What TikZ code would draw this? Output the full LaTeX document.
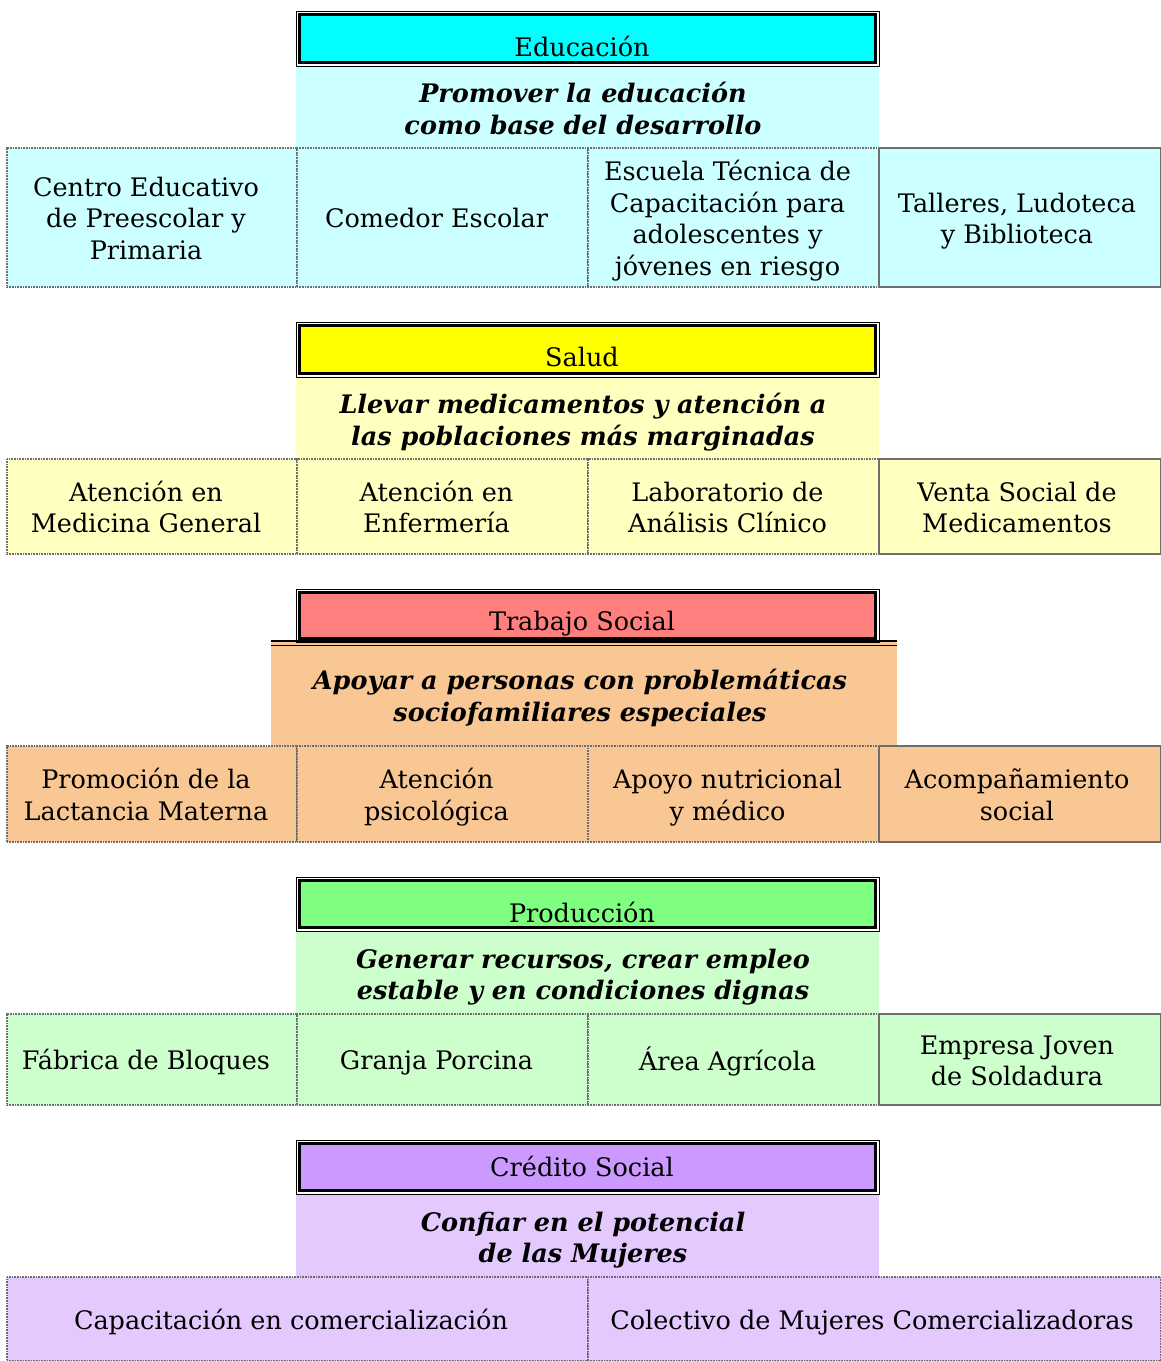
\documentclass[tikz,border=0pt]{standalone}
\usepackage{fontspec}
\setmainfont{DejaVu Serif}
\definecolor{cyanH}{HTML}{00FFFF}
\definecolor{cyanL}{HTML}{CCFFFF}
\definecolor{yelH}{HTML}{FFFF00}
\definecolor{yelL}{HTML}{FFFFC0}
\definecolor{redH}{HTML}{FF7F7F}
\definecolor{orL}{HTML}{F9C794}
\definecolor{grnH}{HTML}{7FFF7F}
\definecolor{grnL}{HTML}{CCFFCC}
\definecolor{purH}{HTML}{CC99FF}
\definecolor{purL}{HTML}{E4C9FF}
\definecolor{cellline}{HTML}{6E6E6E}
% #1 = horizontal offset (twice the left shift), #2 = twice the downward shift, #3 = lines
\newcommand{\ctab}[3]{\raisebox{0pt}[\dimexpr\height+#2pt\relax]{\begin{tabular}{@{}c@{}}#3\end{tabular}}\hspace*{#1pt}}
\begin{document}
\begin{tikzpicture}[x=1pt,y=-1pt,
  every node/.style={inner sep=0pt, outer sep=0pt},
  hdr/.style={rectangle, draw=black, fill=white, line width=1pt, minimum width=583pt, minimum height=55pt},
  htext/.style={font=\fontsize{25.5}{31.5}\selectfont},
  sub/.style={rectangle, minimum width=583pt, minimum height=82pt,
    font=\fontsize{25.5}{31.5}\selectfont\bfseries\itshape},
  cell/.style={rectangle, draw=cellline, line width=1.6pt, dash pattern=on 1pt off 0.6pt,
    minimum height=#1, font=\fontsize{25.5}{31.5}\selectfont},
  lastcell/.style={rectangle, draw=cellline, line width=2pt,
    minimum height=#1, font=\fontsize{25.5}{31.5}\selectfont}
]
\useasboundingbox (0,0) rectangle (1161,1361);
\newcommand{\innerframe}[2]{%
  \draw[line width=2.6pt, fill=#2] ([shift={(3.4pt,-3.4pt)}]#1.north west) rectangle ([shift={(-3.4pt,3.4pt)}]#1.south east);}

% ---------------- Educacion ----------------
\node[sub, fill=cyanL] (s1) at (587.5,107) {\ctab{9}{10}{Promover la educación\\como base del desarrollo}};
\node[hdr] (h1) at (587.5,38.5) {};
\innerframe{h1}{cyanH}
\node[htext] (h1t) at (582,46) {Educación};
\node[cell=139pt, fill=cyanL, minimum width=290pt] (e1) at (152,217.5) {\ctab{12}{8}{Centro Educativo\\de Preescolar y\\Primaria}};
\node[cell=139pt, fill=cyanL, minimum width=291pt] (e2) at (442.5,217.5) {\ctab{12}{8}{Comedor Escolar}};
\node[cell=139pt, fill=cyanL, minimum width=291pt] (e3) at (733.5,217.5) {\ctab{12}{8}{Escuela Técnica de\\Capacitación para\\adolescentes y\\jóvenes en riesgo}};
\node[lastcell=139pt, fill=cyanL, minimum width=282pt] (e4) at (1020,217.5) {\ctab{6}{8}{Talleres, Ludoteca\\y Biblioteca}};

% ---------------- Salud ----------------
\node[sub, fill=yelL] (s2) at (587.5,418) {\ctab{9}{10}{Llevar medicamentos y atención a\\las poblaciones más marginadas}};
\node[hdr] (h2) at (587.5,349.5) {};
\innerframe{h2}{yelH}
\node[htext] (h2t) at (582,357) {Salud};
\node[cell=95pt, fill=yelL, minimum width=290pt] (a1) at (152,506.5) {\ctab{12}{8}{Atención en\\Medicina General}};
\node[cell=95pt, fill=yelL, minimum width=291pt] (a2) at (442.5,506.5) {\ctab{12}{8}{Atención en\\Enfermería}};
\node[cell=95pt, fill=yelL, minimum width=291pt] (a3) at (733.5,506.5) {\ctab{12}{8}{Laboratorio de\\Análisis Clínico}};
\node[lastcell=95pt, fill=yelL, minimum width=282pt] (a4) at (1020,506.5) {\ctab{6}{8}{Venta Social de\\Medicamentos}};

% ---------------- Trabajo Social ----------------
\node[sub, fill=orL, minimum width=626pt, minimum height=104pt] (s3) at (584,694) {\ctab{8}{10}{Apoyar a personas con problemáticas\\sociofamiliares especiales}};
\node[hdr, minimum height=53pt] (h3) at (587.5,615.5) {};
\innerframe{h3}{redH}
\draw[line width=2.6pt] ([yshift=1.2pt]s3.north west) -- ([yshift=1.2pt]s3.north east);
\draw[line width=1pt] ([yshift=-3pt]s3.north west) -- ([yshift=-3pt]s3.north east);
\node[htext] (h3t) at (582,624) {Trabajo Social};
\node[cell=96pt, fill=orL, minimum width=290pt] (t1) at (152,794) {\ctab{12}{8}{Promoción de la\\Lactancia Materna}};
\node[cell=96pt, fill=orL, minimum width=291pt] (t2) at (442.5,794) {\ctab{12}{8}{Atención\\psicológica}};
\node[cell=96pt, fill=orL, minimum width=291pt] (t3) at (733.5,794) {\ctab{12}{8}{Apoyo nutricional\\y médico}};
\node[lastcell=96pt, fill=orL, minimum width=282pt] (t4) at (1020,794) {\ctab{6}{8}{Acompañamiento\\social}};

% ---------------- Produccion ----------------
\node[sub, fill=grnL, minimum height=83pt] (s4) at (587.5,972.5) {\ctab{9}{10}{Generar recursos, crear empleo\\estable y en condiciones dignas}};
\node[hdr, minimum height=54pt] (h4) at (587.5,904) {};
\innerframe{h4}{grnH}
\node[htext] (h4t) at (582,912) {Producción};
\node[cell=91pt, fill=grnL, minimum width=290pt] (p1) at (152,1059.5) {\ctab{12}{8}{Fábrica de Bloques}};
\node[cell=91pt, fill=grnL, minimum width=291pt] (p2) at (442.5,1059.5) {\ctab{12}{8}{Granja Porcina}};
\node[cell=91pt, fill=grnL, minimum width=291pt] (p3) at (733.5,1059.5) {\ctab{12}{8}{Área Agrícola}};
\node[lastcell=91pt, fill=grnL, minimum width=282pt] (p4) at (1020,1059.5) {\ctab{6}{8}{Empresa Joven\\de Soldadura}};

% ---------------- Credito Social ----------------
\node[sub, fill=purL, minimum height=83pt] (s5) at (587.5,1235.5) {\ctab{9}{10}{Confiar en el potencial\\de las Mujeres}};
\node[hdr, minimum height=54pt] (h5) at (587.5,1167) {};
\innerframe{h5}{purH}
\node[htext] (h5t) at (582,1166) {Crédito Social};
\node[cell=84pt, fill=purL, minimum width=581pt] (c1) at (297.5,1319) {\ctab{13}{8}{Capacitación en comercialización}};
\node[cell=84pt, fill=purL, minimum width=573pt] (c2) at (874.5,1319) {\ctab{5}{8}{Colectivo de Mujeres Comercializadoras}};
\end{tikzpicture}
\end{document}
